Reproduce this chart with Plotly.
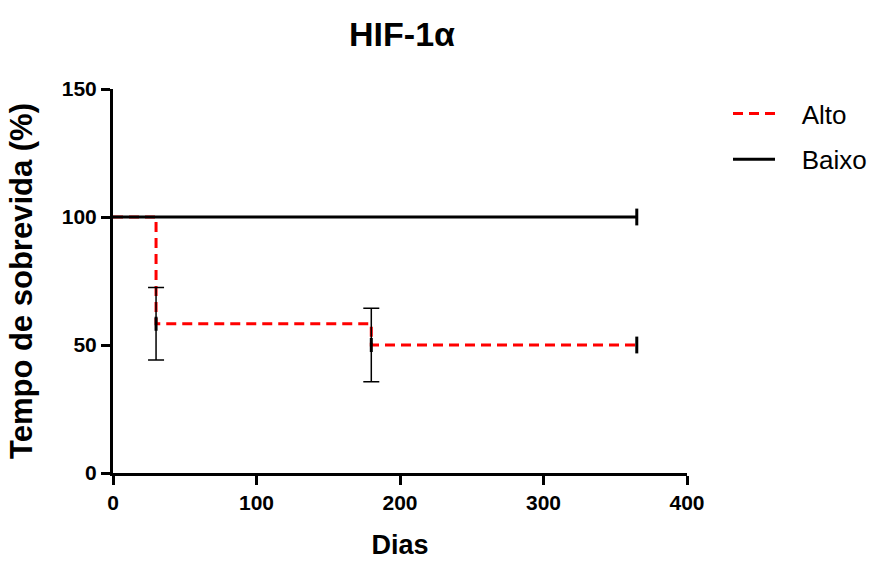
import plotly.graph_objects as go

# Data
days_alto = [0, 30, 180, 365]
surv_alto = [100, 58.3, 50, 50]
days_baixo = [0, 365]
surv_baixo = [100, 100]
err_days = [30, 180]
err_surv = [58.3, 50]
err_se = [14.2, 14.4]
censor_days_alto = [365]
censor_surv_alto = [50]
censor_days_baixo = [365]
censor_surv_baixo = [100]

FONT = "Liberation Sans, Arial, sans-serif"
NB = "\u00a0"

fig = go.Figure()

fig.add_trace(go.Scatter(
    x=days_alto, y=surv_alto, mode="lines", name=NB * 3 + "Alto",
    line=dict(color="#ff0000", width=3, dash="10px,6px", shape="hv"),
    legendgroup="a", legendrank=1,
))
fig.add_trace(go.Scatter(
    x=err_days, y=err_surv, mode="markers", showlegend=False,
    marker=dict(size=10, symbol="line-ns", color="black", line=dict(color="black", width=3)),
    error_y=dict(type="data", array=err_se, visible=True, color="black", thickness=1.5, width=8),
))
fig.add_trace(go.Scatter(
    x=censor_days_alto, y=censor_surv_alto, mode="markers", showlegend=False,
    marker=dict(size=12, symbol="line-ns", color="black", line=dict(color="black", width=3)),
))
# Baixo drawn on an overlaid (identical) axis pair so it sits above the red curve
fig.add_trace(go.Scatter(
    x=days_baixo, y=surv_baixo, mode="lines", name=NB * 3 + "Baixo",
    line=dict(color="black", width=3, shape="hv"),
    legendgroup="b", legendrank=2, xaxis="x2", yaxis="y2",
))
fig.add_trace(go.Scatter(
    x=censor_days_baixo, y=censor_surv_baixo, mode="markers", showlegend=False,
    marker=dict(size=12, symbol="line-ns", color="black", line=dict(color="black", width=3)),
    xaxis="x2", yaxis="y2",
))

fig.update_layout(
    width=872, height=561,
    margin=dict(l=113, r=185, t=89, b=88, autoexpand=False),
    paper_bgcolor="white", plot_bgcolor="white",
    font=dict(family=FONT, color="black"),
    title=dict(text="<b>HIF-1α</b>", x=402/872, xanchor="center", y=1-34/561, yanchor="middle",
               font=dict(size=34, family=FONT, color="black")),
    legend=dict(x=(728-113)/574, xanchor="left", y=1-(90-89)/384, yanchor="top",
                font=dict(size=26, family=FONT, color="black"),
                itemwidth=42,
                traceorder="grouped", tracegroupgap=9, bgcolor="rgba(0,0,0,0)"),
    showlegend=True,
    xaxis2=dict(overlaying="x", range=[0, 400], visible=False, showgrid=False, zeroline=False),
    yaxis2=dict(overlaying="y", range=[0, 150], visible=False, showgrid=False, zeroline=False),
)
fig.update_xaxes(selector=dict(anchor="y"))
fig.layout.xaxis.update(
    range=[0, 400], tickvals=[0, 100, 200, 300, 400],
    showline=True, linecolor="black", linewidth=3, mirror=False,
    ticks="outside", ticklen=9, tickwidth=3, tickcolor="black",
    showgrid=False, zeroline=False,
    tickfont=dict(size=21, family=FONT, color="black", weight="bold"),
    title=dict(text="<b>Dias</b>", font=dict(size=27, family=FONT, color="black"), standoff=22),
)
fig.layout.yaxis.update(
    range=[0, 150], tickvals=[0, 50, 100, 150],
    showline=True, linecolor="black", linewidth=3, mirror=False,
    ticks="outside", ticklen=9, tickwidth=3, tickcolor="black",
    showgrid=False, zeroline=False,
    tickfont=dict(size=21, family=FONT, color="black", weight="bold"),
    title=dict(text="<b>Tempo de sobrevida (%)</b>", font=dict(size=31, family=FONT, color="black"), standoff=20),
)

fig.write_html("out.html")
